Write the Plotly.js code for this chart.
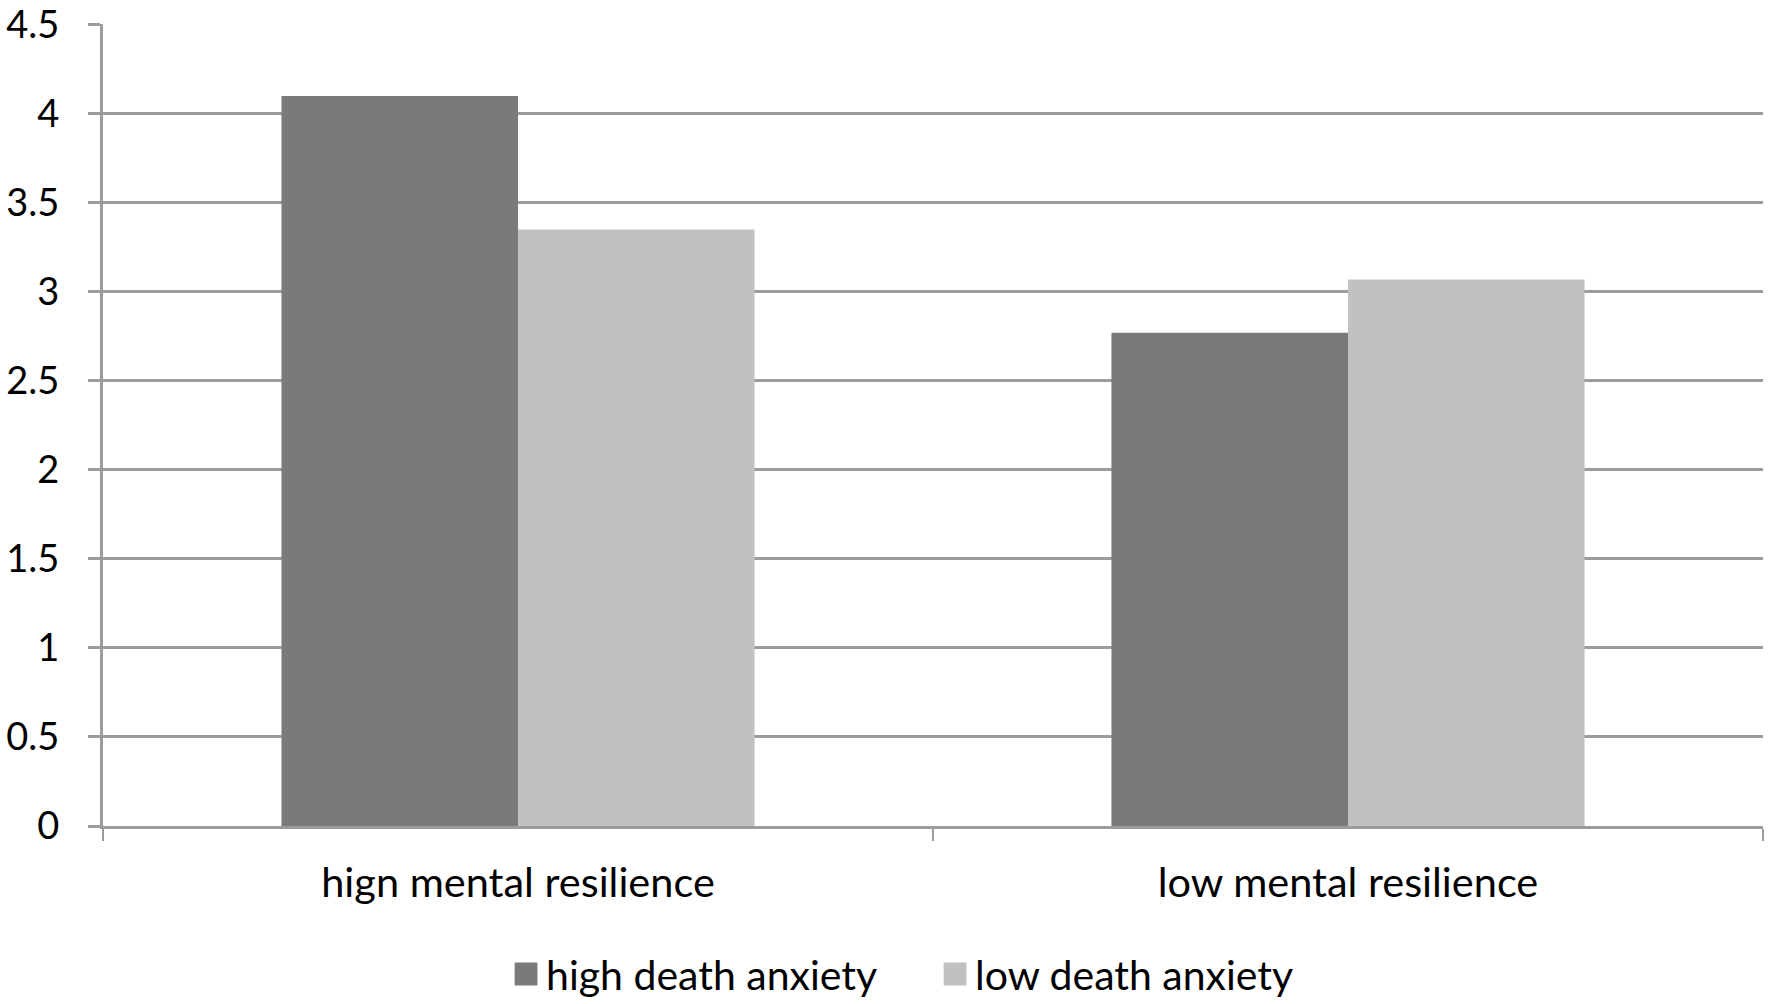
<!DOCTYPE html>
<html>
<head>
<meta charset="utf-8">
<script src="https://cdn.plot.ly/plotly-3.0.1.min.js"></script>
<style>
  html, body { margin: 0; padding: 0; background: #fff; }
  #chart { width: 1772px; height: 1004px; }
</style>
</head>
<body>
<div id="chart"></div>
<script>
// groups on the x axis
var categories = ['hign mental resilience', 'low mental resilience'];

// mean values per group
var highDeathAnxiety = [4.1, 2.77];
var lowDeathAnxiety = [3.35, 3.07];

var yTicks = [0, 0.5, 1, 1.5, 2, 2.5, 3, 3.5, 4, 4.5];
var yTickLabels = ['0', '0.5', '1', '1.5', '2', '2.5', '3', '3.5', '4', '4.5'];

var gridColor = '#9c9c9c';
var fontFamily = 'Lato, "Open Sans", sans-serif';

var trace1 = {
    type: 'bar',
    name: 'high death anxiety',
    x: categories,
    y: highDeathAnxiety,
    marker: {color: '#7a7a7a'},
    hoverinfo: 'skip'
};

var trace2 = {
    type: 'bar',
    name: 'low death anxiety',
    x: categories,
    y: lowDeathAnxiety,
    marker: {color: '#c1c1c1'},
    hoverinfo: 'skip'
};

var layout = {
    width: 1772,
    height: 1004,
    margin: {l: 103, r: 9, t: 24, b: 178, autoexpand: false},
    paper_bgcolor: '#ffffff',
    plot_bgcolor: '#ffffff',
    font: {family: fontFamily, size: 40, color: '#000000'},
    barmode: 'group',
    bargap: 0.43,
    bargroupgap: 0,
    showlegend: true,
    legend: {
        orientation: 'h',
        x: 0.2428,
        xanchor: 'left',
        y: -0.185,
        yanchor: 'middle',
        font: {family: fontFamily, size: 41, color: '#000000'},
        itemwidth: 30,
        entrywidth: 384
    },
    xaxis: {
        type: 'category',
        tickson: 'boundaries',
        ticks: 'outside',
        ticklen: 12,
        tickwidth: 2,
        tickcolor: gridColor,
        showline: true,
        linecolor: gridColor,
        linewidth: 3,
        showgrid: false,
        zeroline: false,
        tickfont: {family: fontFamily, size: 41.5, color: '#000000'},
        ticklabelstandoff: 18
    },
    yaxis: {
        range: [0, 4.505],
        tickvals: yTicks,
        ticktext: yTickLabels,
        ticks: 'outside',
        ticklen: 12,
        tickwidth: 3,
        tickcolor: gridColor,
        showline: true,
        linecolor: gridColor,
        linewidth: 3,
        showgrid: true,
        gridcolor: gridColor,
        gridwidth: 3,
        zeroline: false,
        ticklabeloverflow: 'allow',
        tickfont: {family: fontFamily, size: 38, color: '#000000'},
        ticklabelstandoff: 21
    }
};

Plotly.newPlot('chart', [trace1, trace2], layout, {displayModeBar: false, staticPlot: true}).then(function () {
    // enlarge the small legend squares to the size used in the original
    document.querySelectorAll('.legend .legendpoints path').forEach(function (p) {
        var t = p.getAttribute('transform') || '';
        p.setAttribute('transform', t + ' scale(1.9)');
    });
});
</script>
</body>
</html>
